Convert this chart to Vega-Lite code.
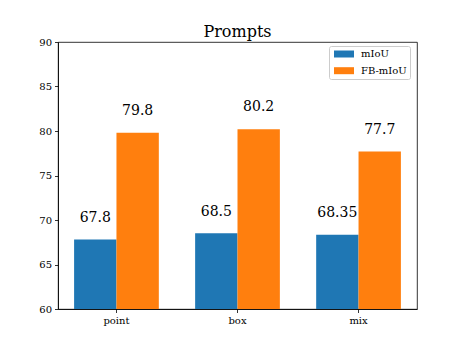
{
  "$schema": "https://vega.github.io/schema/vega-lite/v6.json",
  "autosize": {"type": "none"},
  "padding": {"left": 58, "top": 42, "right": 46, "bottom": 38},
  "width": 359,
  "height": 267,
  "background": "white",
  "title": {"text": "Prompts", "font": "DejaVu Serif", "fontSize": 16, "fontWeight": "normal", "color": "black", "offset": -3},
  "config": {
    "font": "DejaVu Serif",
    "view": {"stroke": "black", "strokeWidth": 0.8},
    "axis": {
      "domainColor": "black", "domainWidth": 0.8, "tickColor": "black", "tickWidth": 0.8, "tickSize": 3.5,
      "labelFont": "DejaVu Serif", "labelFontSize": 10, "labelColor": "black", "grid": false, "labelPadding": 3
    }
  },
  "data": {
    "values": [
      {"prompt": "point", "metric": "mIoU", "value": 67.8},
      {"prompt": "point", "metric": "FB-mIoU", "value": 79.8},
      {"prompt": "box", "metric": "mIoU", "value": 68.5},
      {"prompt": "box", "metric": "FB-mIoU", "value": 80.2},
      {"prompt": "mix", "metric": "mIoU", "value": 68.35},
      {"prompt": "mix", "metric": "FB-mIoU", "value": 77.7}
    ]
  },
  "encoding": {
    "x": {"field": "prompt", "type": "nominal", "sort": ["point", "box", "mix"], "scale": {"paddingInner": 0.3, "paddingOuter": 0.133}, "axis": {"title": null, "labelAngle": 0}},
    "xOffset": {"field": "metric", "type": "nominal", "sort": ["mIoU", "FB-mIoU"], "scale": {"paddingInner": 0, "paddingOuter": 0}},
    "y": {"field": "value", "type": "quantitative", "scale": {"domain": [60, 90], "zero": false, "nice": false}, "axis": {"title": null, "values": [60, 65, 70, 75, 80, 85, 90]}}
  },
  "layer": [
    {
      "mark": {"type": "bar", "clip": true},
      "encoding": {
        "color": {
          "field": "metric", "type": "nominal",
          "scale": {"domain": ["mIoU", "FB-mIoU"], "range": ["#1f77b4", "#ff7f0e"]},
          "legend": {
            "title": null, "orient": "none", "legendX": 271, "legendY": 4,
            "symbolType": "M-2,-0.7H2V0.7H-2Z", "symbolSize": 100, "symbolStrokeWidth": 0, "symbolOffset": 7,
            "labelFont": "DejaVu Serif", "labelFontSize": 10, "labelColor": "black", "labelOffset": 12,
            "rowPadding": 6.7, "padding": 3, "strokeColor": "#cccccc", "fillColor": "white", "cornerRadius": 2
          }
        }
      }
    },
    {
      "mark": {"type": "text", "font": "DejaVu Serif", "fontSize": 14, "color": "black", "baseline": "alphabetic", "dy": -17.8},
      "encoding": {"text": {"field": "value", "type": "quantitative"}}
    }
  ]
}
